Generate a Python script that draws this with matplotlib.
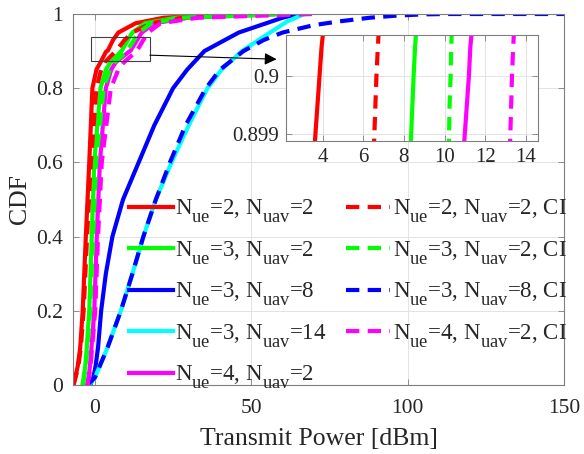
import matplotlib
matplotlib.use("Agg")
import matplotlib.pyplot as plt
from matplotlib.patches import Rectangle

try:
    import matplotlib._mathtext as _mt
    _mt.SHRINK_FACTOR = 0.8
    _mt.FontConstantsBase.subdrop = 0.75
    _mt.FontConstantsBase.sub1 = 0.75
except Exception:
    pass

plt.rcParams['font.family'] = ['Liberation Serif', 'DejaVu Serif']
plt.rcParams['mathtext.fontset'] = 'custom'
plt.rcParams['mathtext.rm'] = 'Liberation Serif'
plt.rcParams['mathtext.it'] = 'Liberation Serif'

# ---- data: CDF levels (p) and transmit power quantiles (dBm) ----
p_solid = [0, 0.02, 0.05, 0.1, 0.2, 0.4, 0.6, 0.8, 0.85, 0.87, 0.8985, 0.8995,
           0.9, 0.9005, 0.901, 0.93, 0.95, 0.975, 0.99, 1.0]
p_dash = [0, 0.05, 0.1, 0.2, 0.4, 0.6, 0.8, 0.85, 0.87, 0.8985, 0.8995,
          0.9, 0.9005, 0.901, 0.93, 0.95, 0.975, 0.99, 1.0]

x_ue2_uav2 = [-7, -6.3, -5.5, -4.7, -3.9, -2.9, -1.8, -0.8, 0.5, 1.8, 3.55, 3.75,
              3.85, 3.95, 4.1, 5.8, 7.5, 13, 22, 45]
x_ue3_uav2 = [-4, -3.6, -3.1, -2.6, -1.8, -1.0, -0.2, 1.8, 3.5, 5, 8.3, 8.42,
              8.48, 8.55, 8.65, 10.5, 12, 16, 26, 55]
x_ue4_uav2 = [-2.5, -2.0, -1.6, -1.1, -0.2, 0.6, 1.6, 3.5, 5.2, 6.7, 10.9, 11.1,
              11.2, 11.27, 11.4, 13.5, 15, 19, 30, 60]

x_ue2_uav2_ci = [-6.8, -5.3, -4.5, -3.6, -2.5, -1.3, 0.5, 2.0, 3.2, 6.5, 6.6,
                 6.65, 6.72, 6.8, 9.5, 12, 18, 28, 55]
x_ue3_uav2_ci = [-3.8, -2.9, -2.4, -1.5, -0.6, 0.4, 2.8, 4.8, 6.3, 10.2, 10.25,
                 10.3, 10.33, 10.38, 12.5, 14, 18, 28, 60]
x_ue4_uav2_ci = [-2.3, -1.4, -0.9, 0.1, 1.0, 2.2, 5.1, 7.5, 9.3, 13.2, 13.28,
                 13.32, 13.38, 13.45, 15.5, 17, 21, 33, 70]

p_uav8 = [0, 0.02, 0.05, 0.1, 0.2, 0.3, 0.4, 0.5, 0.6, 0.7, 0.8, 0.85, 0.9,
          0.95, 0.97, 0.99, 1.0]
x_ue3_uav8 = [-1.5, -0.5, 0.2, 1, 2, 3.5, 5.6, 9, 14, 19, 25, 29.5, 35, 46,
              53, 60, 65]

p_uav14 = [0, 0.02, 0.05, 0.1, 0.2, 0.3, 0.4, 0.5, 0.6, 0.7, 0.8, 0.85, 0.9,
           0.95, 0.98, 1.0]
x_ue3_uav14 = [-2, 0, 1.5, 4, 8.3, 12, 15.5, 19.5, 24.5, 30, 36, 40.5, 47, 56,
               61.5, 67]

p_uav8_ci = [0, 0.02, 0.05, 0.1, 0.2, 0.3, 0.4, 0.5, 0.6, 0.7, 0.8, 0.85, 0.9,
             0.93, 0.95, 0.97, 0.98, 0.99, 0.996, 0.999, 1.0, 1.0]
x_ue3_uav8_ci = [-2.5, 0, 1.5, 4, 8.3, 12, 15.5, 19.5, 24, 29, 35.5, 40, 47.5,
                 54, 60, 70, 78, 88, 97, 105, 112, 150]

def lab(ue, uav, ci=False):
    s = r'$\mathrm{N}_{\mathrm{ue}}$=%s, $\mathrm{N}_{\mathrm{uav}}$=%s' % (ue, uav)
    return s + (', CI' if ci else '')

solid = [
    (x_ue2_uav2, p_solid, '#ff0000', lab(2, 2)),
    (x_ue3_uav2, p_solid, '#00ff00', lab(3, 2)),
    (x_ue3_uav8, p_uav8, '#0000ff', lab(3, 8)),
    (x_ue3_uav14, p_uav14, '#00ffff', lab(3, 14)),
    (x_ue4_uav2, p_solid, '#ff00ff', lab(4, 2)),
]
dashed = [
    (x_ue2_uav2_ci, p_dash, '#ff0000', lab(2, 2, True)),
    (x_ue3_uav2_ci, p_dash, '#00ff00', lab(3, 2, True)),
    (x_ue3_uav8_ci, p_uav8_ci, '#0000ff', lab(3, 8, True)),
    (x_ue4_uav2_ci, p_dash, '#ff00ff', lab(4, 2, True)),
]

W, H = 584, 454
fig = plt.figure(figsize=(W / 100, H / 100), dpi=100)
ax = fig.add_axes([73 / W, (H - 385) / H, (564 - 73) / W, (385 - 14) / H])

LW = 3.0
DASH = (3.2, 2.0)
TXT = '#262626'
SPINE = '#7f7f7f'

def style(a, fs):
    for s in a.spines.values():
        s.set_color(SPINE)
        s.set_linewidth(0.8)
    a.tick_params(direction='in', colors=SPINE, labelcolor=TXT, labelsize=fs,
                  top=True, right=True, length=4, width=0.6)
    a.grid(True, color='#e3e3e3', linewidth=0.7)
    a.set_axisbelow(True)

handles = []
for x, p, c, l in solid:
    h, = ax.plot(x, p, color=c, lw=LW, label=l)
    handles.append(h)
for x, p, c, l in dashed:
    h, = ax.plot(x, p, color=c, lw=LW, ls=(0, DASH), label=l)
    handles.append(h)

ax.set_xlim(-7, 150)
ax.set_ylim(0, 1)
ax.set_xticks([0, 50, 100, 150])
ax.set_yticks([0, 0.2, 0.4, 0.6, 0.8, 1])
ax.set_yticklabels(['0', '0.2', '0.4', '0.6', '0.8', '1'])
style(ax, 15.5)
ax.tick_params(axis='x', pad=10)
ax.tick_params(axis='y', pad=7)
ax.set_xlabel('Transmit Power [dBm]', fontsize=18.5, color=TXT, labelpad=7)
ax.set_ylabel('CDF', fontsize=18.5, color=TXT, labelpad=4)

ax.add_patch(Rectangle((-1.3, 0.873), 18.9, 0.064, fill=False,
                       ec='#404040', lw=0.8, zorder=5))
ax.annotate('', xy=(58.1, 0.878), xytext=(17.6, 0.889),
            arrowprops=dict(arrowstyle='-|>', color='black', lw=0.8,
                            mutation_scale=18, shrinkA=0, shrinkB=0),
            zorder=6)

leg = ax.legend(handles=handles, ncol=2, frameon=False, fontsize=16.5,
                loc='upper left', bbox_to_anchor=(129 / W, (H - 198) / H),
                bbox_transform=fig.transFigure, handlelength=1.9,
                handletextpad=0.12, labelspacing=0.62, columnspacing=0.85,
                borderpad=0, borderaxespad=0)
for t in leg.get_texts():
    t.set_color(TXT)

# inset
axi = fig.add_axes([286 / W, (H - 141) / H, 252 / W, 106 / H])
for x, p, c, l in solid:
    axi.plot(x, p, color=c, lw=LW)
for x, p, c, l in dashed:
    axi.plot(x, p, color=c, lw=LW, ls=(0, DASH))
axi.set_xlim(2.2, 14.6)
axi.set_ylim(0.89887, 0.90071)
axi.set_xticks([4, 6, 8, 10, 12, 14])
axi.set_yticks([0.899, 0.9])
axi.set_yticklabels(['0.899', '0.9'])
style(axi, 15)
axi.tick_params(axis='both', pad=5)
axi.set_facecolor('white')

fig.savefig('out.png', dpi=100)
